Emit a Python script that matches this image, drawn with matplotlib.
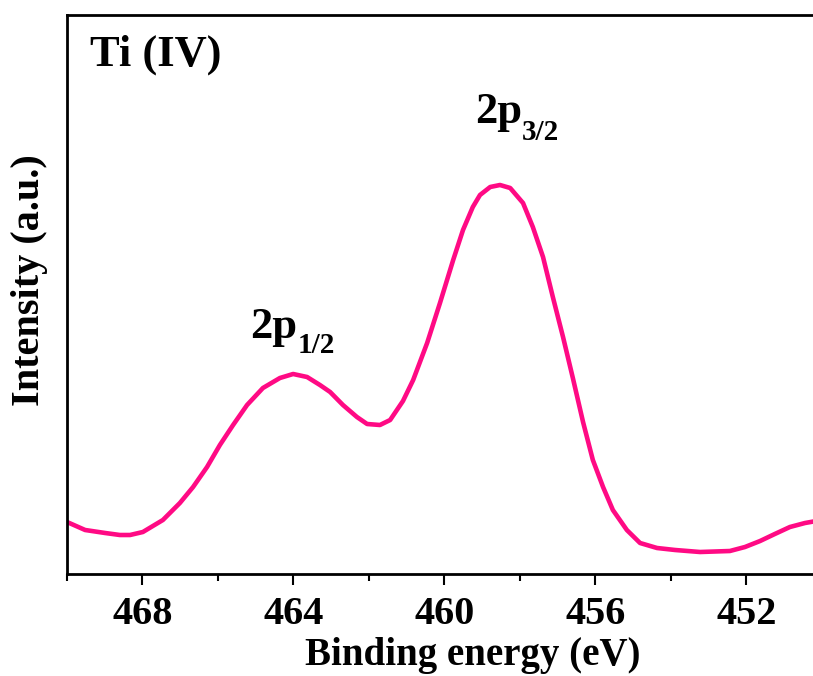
import matplotlib
matplotlib.use('Agg')
import matplotlib.pyplot as plt
from matplotlib.ticker import MultipleLocator

# Ti 2p XPS spectrum
binding_energy = [470.00, 469.52, 468.99, 468.60, 468.33, 467.99, 467.46, 467.01,
                  466.66, 466.29, 465.95, 465.60, 465.23, 464.81, 464.36, 464.01,
                  463.64, 463.30, 463.03, 462.69, 462.32, 462.05, 461.71, 461.44,
                  461.10, 460.83, 460.46, 460.12, 459.77, 459.51, 459.25, 459.06,
                  458.79, 458.53, 458.26, 457.92, 457.66, 457.39, 457.13, 456.86,
                  456.60, 456.33, 456.07, 455.80, 455.54, 455.17, 454.82, 454.37,
                  453.89, 453.23, 452.44, 452.04, 451.64, 451.25, 450.85, 450.45,
                  450.00]
intensity = [52, 44, 41, 39, 39, 42, 54, 71,
             87, 107, 129, 149, 169, 186, 196, 200,
             197, 189, 182, 169, 157, 150, 149, 154,
             173, 194, 231, 271, 314, 344, 367, 379,
             387, 389, 386, 371, 347, 317, 277, 237,
             196, 152, 114, 87, 64, 44, 31, 26,
             24, 22, 23, 27, 33, 40, 47, 51,
             54]

major_ticks = [468, 464, 460, 456, 452]

plt.rcParams['font.family'] = ['Liberation Serif', 'DejaVu Serif']
plt.rcParams['font.weight'] = 'bold'

fig = plt.figure(figsize=(8.13, 6.76), dpi=100)
# axes run past the right edge of the figure, as in the cropped original
ax = fig.add_axes([67 / 813, 102 / 676, 755 / 813, 559 / 676])

ax.plot(binding_energy, intensity, color='#FF0A84', linewidth=3.3,
        solid_joinstyle='round')

ax.set_xlim(470, 450)
ax.set_ylim(0, 559)
ax.set_xticks(major_ticks)
ax.xaxis.set_minor_locator(MultipleLocator(2))
ax.tick_params(axis='x', which='major', direction='out', length=8, width=1.5,
               labelsize=29, pad=8)
ax.tick_params(axis='x', which='minor', direction='out', length=5, width=1.5)
ax.set_yticks([])
for side in ['left', 'bottom', 'top']:
    ax.spines[side].set_linewidth(2)
ax.spines['right'].set_visible(False)

ax.text(0.03, 0.965, 'Ti (IV)', transform=ax.transAxes, fontsize=32,
        fontweight='bold', va='top', ha='left')

# peak labels: main text plus a lowered subscript
ax.text(465.15, 236, '2p', fontsize=32, fontweight='bold', ha='left', va='baseline')
ax.text(463.88, 221, '1/2', fontsize=21, fontweight='bold', ha='left', va='baseline')
ax.text(459.19, 451, '2p', fontsize=32, fontweight='bold', ha='left', va='baseline')
ax.text(457.95, 434, '3/2', fontsize=21, fontweight='bold', ha='left', va='baseline')

fig.text(30 / 813, (676 - 280) / 676, 'Intensity (a.u.)', rotation=90, fontsize=29,
         fontweight='bold', ha='center', va='center')
fig.text(473 / 813, (676 - 656) / 676, 'Binding energy (eV)', fontsize=28,
         fontweight='bold', ha='center', va='center')

fig.savefig('out.png', dpi=100, facecolor='white')
